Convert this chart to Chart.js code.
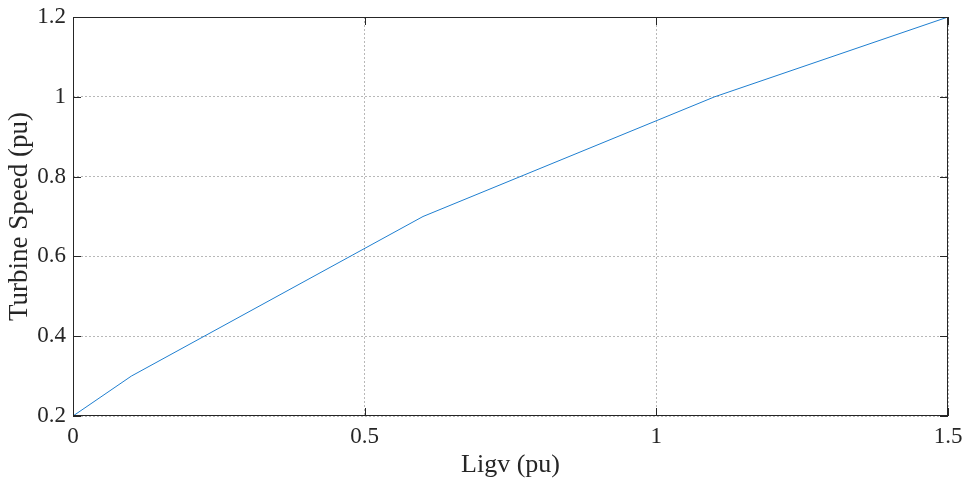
<!DOCTYPE html>
<html lang="en">
<head>
    <meta charset="UTF-8">
    <title>Turbine Speed vs Ligv</title>
    <script src="https://cdn.jsdelivr.net/npm/chart.js"></script>
    <style>
        html, body { margin: 0; padding: 0; background: #fff; }
        #wrap { width: 966px; height: 483px; position: relative; }
    </style>
</head>
<body>
    <div id="wrap"><canvas id="chart"></canvas></div>
    <script>
        // values
        const ligv = [0, 0.1, 0.6, 1.1, 1.5];
        const speed = [0.2, 0.3, 0.7, 1.0, 1.2];
        const xTicks = [0, 0.5, 1, 1.5];
        const yTicks = [0.2, 0.4, 0.6, 0.8, 1, 1.2];

        const font = "'Liberation Serif', serif";

        // closed box + inward tick marks, MATLAB style
        const boxPlugin = {
            id: 'box',
            afterDraw(chart) {
                const { ctx, chartArea: a, scales } = chart;
                ctx.save();
                ctx.strokeStyle = '#262626';
                ctx.lineWidth = 1;
                ctx.strokeRect(a.left + 0.5, a.top + 0.5, a.right - a.left - 1, a.bottom - a.top - 1);
                const len = 8;
                ctx.beginPath();
                xTicks.forEach(v => {
                    const x = Math.round(scales.x.getPixelForValue(v)) + 0.5;
                    ctx.moveTo(x, a.bottom); ctx.lineTo(x, a.bottom - len);
                    ctx.moveTo(x, a.top); ctx.lineTo(x, a.top + len);
                });
                yTicks.forEach(v => {
                    const y = Math.round(scales.y.getPixelForValue(v)) + 0.5;
                    ctx.moveTo(a.left, y); ctx.lineTo(a.left + len, y);
                    ctx.moveTo(a.right, y); ctx.lineTo(a.right - len, y);
                });
                ctx.stroke();
                ctx.restore();
            }
        };

        new Chart(document.getElementById('chart'), {
            type: 'line',
            data: {
                datasets: [{
                    data: ligv.map((x, i) => ({ x: x, y: speed[i] })),
                    borderColor: '#1f7fd0',
                    borderWidth: 1,
                    pointRadius: 0,
                    tension: 0,
                    fill: false
                }]
            },
            options: {
                responsive: true,
                maintainAspectRatio: false,
                animation: false,
                layout: { padding: { top: 17, right: 18, left: 0, bottom: 0 } },
                plugins: { legend: { display: false }, tooltip: { enabled: false } },
                scales: {
                    x: {
                        type: 'linear',
                        min: 0, max: 1.5,
                        afterBuildTicks: s => { s.ticks = xTicks.map(v => ({ value: v })); },
                        afterFit: s => { s.height = 67; s.paddingLeft = 0; s.paddingRight = 0; },
                        ticks: {
                            color: '#262626',
                            font: { family: font, size: 23, lineHeight: 1 },
                            padding: 9,
                            maxRotation: 0,
                            callback: v => String(+v.toFixed(1))
                        },
                        grid: { color: '#b8b8b8', lineWidth: 1, drawTicks: false, tickLength: 0 },
                        border: { display: false, dash: [2, 2] },
                        title: {
                            display: true,
                            text: 'Ligv (pu)',
                            color: '#262626',
                            font: { family: font, size: 26 },
                            padding: { top: 0, bottom: 2 }
                        }
                    },
                    y: {
                        type: 'linear',
                        min: 0.2, max: 1.2,
                        afterBuildTicks: s => { s.ticks = yTicks.map(v => ({ value: v })); },
                        afterFit: s => { s.width = 73; s.paddingTop = 0; s.paddingBottom = 0; },
                        ticks: {
                            color: '#262626',
                            font: { family: font, size: 23, lineHeight: 1 },
                            padding: 7,
                            callback: v => String(+v.toFixed(1))
                        },
                        grid: { color: '#b8b8b8', lineWidth: 1, drawTicks: false, tickLength: 0 },
                        border: { display: false, dash: [2, 2] },
                        title: {
                            display: true,
                            text: 'Turbine Speed (pu)',
                            color: '#262626',
                            font: { family: font, size: 27 },
                            padding: { top: 4, bottom: 4 }
                        }
                    }
                }
            },
            plugins: [boxPlugin]
        });
    </script>
</body>
</html>
